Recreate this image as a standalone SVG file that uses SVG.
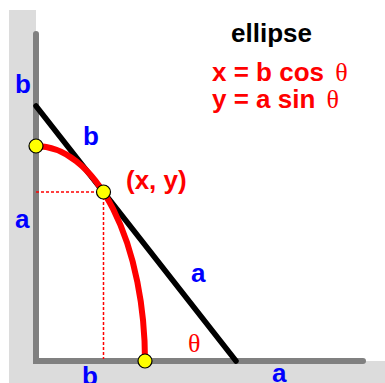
<svg xmlns="http://www.w3.org/2000/svg" width="385" height="383" viewBox="0 0 385 383">
<style>
.lbl{font-family:"Liberation Sans",Arial,sans-serif;font-weight:bold;font-size:26px}
.blue{fill:#0000ff}
.red{fill:#ff0000}
.th{font-family:"Liberation Serif","Times New Roman",serif;font-weight:normal}
.dash{stroke:#ff0000;stroke-width:1.5;stroke-dasharray:3 2;fill:none}
.pt{fill:#ffff00;stroke:#000;stroke-width:1.2}
</style>
<g id="background">
<polygon points="9,10 36,10 36,361 385,361 385,383 9,383" fill="#dcdcdc"/>
<path d="M36,34 L36,361 L363,361" fill="none" stroke="#808080" stroke-width="6" stroke-linecap="round" stroke-linejoin="miter"/>
</g>
<g id="connectors">
<line x1="36" y1="192" x2="103" y2="192" class="dash"/>
<line x1="103.5" y1="192" x2="103.5" y2="359" class="dash"/>
<line id="ladder" x1="36" y1="106" x2="236" y2="361" stroke="#000" stroke-width="5.5" stroke-linecap="round"/>
<path id="ellipse-arc" d="M36,146 A109,215 0 0 1 145,361" fill="none" stroke="#ff0000" stroke-width="6"/>
</g>
<g id="point-top"><circle cx="36" cy="146" r="7" class="pt"/></g>
<g id="point-xy"><circle cx="103.5" cy="192" r="7" class="pt"/></g>
<g id="point-bottom"><circle cx="145" cy="361" r="7" class="pt"/></g>
<g id="labels">
<text x="15" y="93" class="lbl blue">b</text>
<text x="83" y="145" class="lbl blue">b</text>
<text x="126" y="189" class="lbl red">(x, y)</text>
<text x="15" y="228" class="lbl blue">a</text>
<text x="191" y="282" class="lbl blue">a</text>
<text x="188" y="352" class="lbl red th">θ</text>
<text x="82" y="385" class="lbl blue">b</text>
<text x="272" y="382" class="lbl blue">a</text>
<text x="231" y="42" class="lbl" fill="#000">ellipse</text>
<text x="212" y="81" class="lbl red">x = b cos <tspan class="th" dx="4">θ</tspan></text>
<text x="212" y="108" class="lbl red">y = a sin <tspan class="th" dx="4">θ</tspan></text>
</g>
</svg>
